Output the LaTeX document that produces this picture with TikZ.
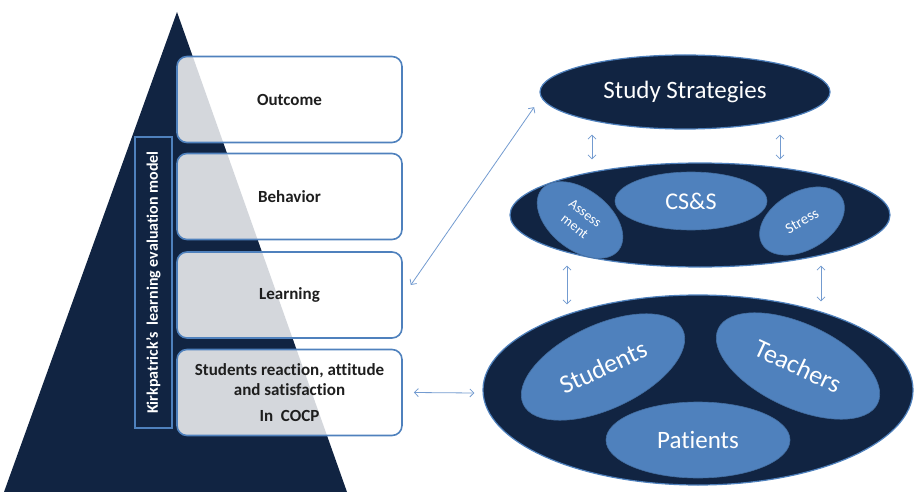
\documentclass[tikz,border=0pt]{standalone}
\usepackage{fontspec}
\setmainfont{Carlito}[Ligatures={NoCommon}]
\usetikzlibrary{shapes.geometric,arrows.meta,calc}
\definecolor{navy}{RGB}{17,36,66}
\definecolor{midblue}{RGB}{79,129,189}
\definecolor{arrowblue}{RGB}{115,155,208}
\definecolor{boxline}{RGB}{79,129,189}
\definecolor{boxtext}{RGB}{30,30,30}
\begin{document}
\begin{tikzpicture}[x=1pt,y=-1pt,
 lvl/.style={draw=boxline, line width=1.6pt, rounded corners=10pt, fill=white, fill opacity=0.82, text opacity=1, minimum width=225pt, minimum height=86pt, font=\bfseries\fontsize{17}{20}\selectfont, align=center, text=boxtext},
 outer/.style={ellipse, draw=boxline, line width=1.2pt, fill=navy, inner sep=0pt, text=white},
 inner/.style={ellipse, fill=midblue, draw=midblue!85!black, line width=0.6pt, inner sep=0pt, text=white, align=center},
 arr/.style={{Straight Barb[length=4pt,width=8pt]}-{Straight Barb[length=4pt,width=8pt]}, draw=arrowblue, line width=0.8pt}
]
\useasboundingbox (0,0) rectangle (915,492);
% pyramid
\fill[navy] (177,12) -- (347,492) -- (4,492) -- cycle;
% level boxes
\node[lvl] (out) at (289.5,99.5) {Outcome};
\node[lvl] (beh) at (289.5,196.5) {Behavior};
\node[lvl] (learn) at (289.5,295) {Learning};
\node[lvl] (react) at (289.5,392.5) {Students reaction, attitude\\ and satisfaction\\[6pt] In~ COCP};
% vertical label
\node[draw=boxline, line width=2.5pt, fill=navy, minimum width=291pt, minimum height=37pt, rotate=90, text=white, inner sep=0pt, font=\bfseries\fontsize{16}{18}\selectfont] (kirk) at (153.5,282.5) {Kirkpatrick’s~ learning evaluation model};
% right side
\node[outer, minimum width=290pt, minimum height=74pt, font=\fontsize{25}{28}\selectfont] (study) at (685,92) {Study Strategies};
\node[outer, minimum width=380pt, minimum height=104pt] (mid) at (700,215) {};
\node[inner, minimum width=152pt, minimum height=58pt, font=\fontsize{24}{28}\selectfont] (css) at (691,201) {CS\&S};
\node[inner, minimum width=98pt, minimum height=60pt, rotate=-38, font=\fontsize{14}{17}\selectfont] (assess) at (580,220) {Assess\\ment};
\node[inner, minimum width=92pt, minimum height=58pt, rotate=30, font=\fontsize{15}{17}\selectfont] (stress) at (802,221) {Stress};
\node[outer, minimum width=430pt, minimum height=190pt] (bot) at (698,390) {};
\node[inner, minimum width=176pt, minimum height=84pt, rotate=25, font=\fontsize{26}{30}\selectfont] (stud) at (603,367) {Students};
\node[inner, minimum width=176pt, minimum height=84pt, rotate=-25, font=\fontsize{26}{30}\selectfont] (teach) at (798,366) {Teachers};
\node[inner, minimum width=184pt, minimum height=76pt, font=\fontsize{25}{28}\selectfont] (pat) at (698,440) {Patients};
% connectors
\draw[arr] ([shift={(8,-10)}]learn.east) -- ([shift={(-16,1)}]study.186);
\draw[arr] ([shift={(11,0)}]react.east) -- ([shift={(-8,3)}]bot.west);
\draw[arr] ([shift={(-93,5)}]study.south) -- ([shift={(-108,-3)}]mid.north);
\draw[arr] ([shift={(95,5)}]study.south) -- ([shift={(80,-3)}]mid.north);
\draw[arr] ([shift={(-133,-2)}]mid.south) -- ([shift={(-131,10)}]bot.north);
\draw[arr] ([shift={(121,-2)}]mid.south) -- ([shift={(123,7)}]bot.north);
\end{tikzpicture}
\end{document}
